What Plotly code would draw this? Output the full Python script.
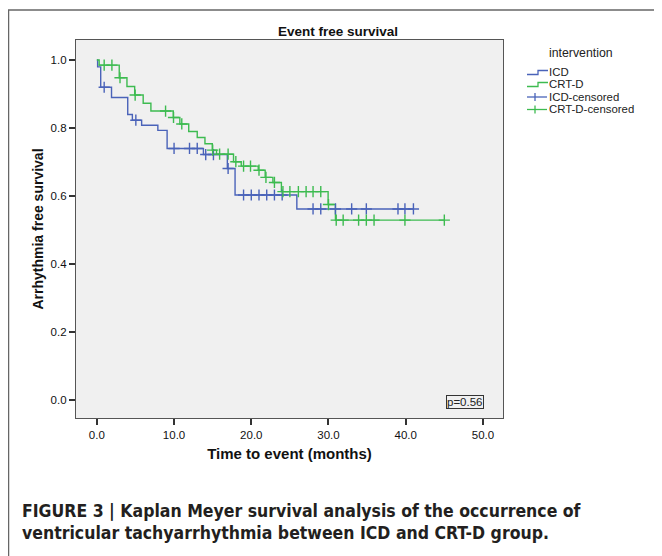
import plotly.graph_objects as go

# ---------------- data ----------------
icd_times = [0, 0.1, 0.5, 1.9, 4.0, 4.6, 5.8, 7.9, 9.1, 13.8, 16.9, 17.9, 25.9, 41.0]
icd_surv = [1.0, 0.98, 0.92, 0.89, 0.84, 0.823, 0.808, 0.793, 0.74, 0.722, 0.681, 0.603, 0.562, 0.562]
icd_censored = [0.95, 5.05, 10.0, 12.0, 13.0, 14.1, 15.1, 17.0, 19.0, 20.0, 21.0, 22.0,
                23.0, 24.0, 28.0, 29.0, 30.9, 33.0, 34.9, 39.0, 39.9, 41.0]

crt_times = [0, 0.3, 2.9, 3.9, 4.9, 6.0, 7.0, 9.9, 10.75, 11.9, 13.0, 14.0, 14.95, 15.5,
             17.7, 18.7, 20.9, 21.8, 22.8, 23.9, 29.95, 30.9, 45.0]
crt_surv = [1.0, 0.985, 0.948, 0.922, 0.897, 0.873, 0.85, 0.831, 0.812, 0.79, 0.772, 0.754,
            0.735, 0.723, 0.701, 0.688, 0.676, 0.655, 0.640, 0.613, 0.575, 0.529, 0.529]
crt_censored = [0.95, 1.95, 3.0, 4.96, 8.9, 9.93, 11.0, 15.0, 15.9, 17.0, 18.0, 19.0, 19.9,
                21.0, 21.9, 23.0, 24.1, 25.0, 26.1, 27.1, 28.0, 29.0, 30.0, 31.0, 31.9,
                33.9, 34.9, 35.9, 39.9, 45.0]

x_ticks = [0, 10, 20, 30, 40, 50]
x_tick_labels = ["0.0", "10.0", "20.0", "30.0", "40.0", "50.0"]
y_ticks = [0.0, 0.2, 0.4, 0.6, 0.8, 1.0]
y_tick_labels = ["0.0", "0.2", "0.4", "0.6", "0.8", "1.0"]

group_names = ["ICD", "CRT-D", "ICD-censored", "CRT-D-censored"]
p_value_text = "p=0.56"
chart_title = "Event free survival"
x_title = "Time to event (months)"
y_title = "Arrhythmia free survival"
legend_title = "intervention"
caption_lines = [
    "FIGURE 3 | Kaplan Meyer survival analysis of the occurrence of",
    "ventricular tachyarrhythmia between ICD and CRT-D group.",
]

BLUE = "#4a63b9"
GREEN = "#3dbb50"


def surv_at(times, surv, t):
    s = surv[0]
    for ti, si in zip(times, surv):
        if ti <= t:
            s = si
    return s


# ---------------- layout geometry (page pixels) ----------------
PAGE_W, PAGE_H = 662, 556
OFF = 8  # default body margin of the html page
W, H = PAGE_W - OFF, PAGE_H - OFF
L, R, T, B = 76, 503, 40, 418  # plot area edges in page pixels


def px(xp):
    return (xp - L) / (R - L)


def py(yp):
    return (B - yp) / (B - T)


fig = go.Figure()

fig.add_trace(go.Scatter(x=icd_times, y=icd_surv, mode="lines", line_shape="hv",
                         line=dict(color=BLUE, width=1.4), name=group_names[0],
                         showlegend=False))
fig.add_trace(go.Scatter(x=crt_times, y=crt_surv, mode="lines", line_shape="hv",
                         line=dict(color=GREEN, width=1.4), name=group_names[1],
                         showlegend=False))
fig.add_trace(go.Scatter(x=icd_censored,
                         y=[surv_at(icd_times, icd_surv, t) for t in icd_censored],
                         mode="markers", name=group_names[2], showlegend=False,
                         marker=dict(symbol="cross-thin", size=8,
                                     line=dict(color=BLUE, width=1.4))))
fig.add_trace(go.Scatter(x=crt_censored,
                         y=[surv_at(crt_times, crt_surv, t) for t in crt_censored],
                         mode="markers", name=group_names[3], showlegend=False,
                         marker=dict(symbol="cross-thin", size=8,
                                     line=dict(color=GREEN, width=1.4))))

FONT = "Liberation Sans, Arial, sans-serif"

annotations = []
shapes = []

# chart title
annotations.append(dict(xref="paper", yref="paper", x=px(338), y=py(31), text="<b>%s</b>" % chart_title,
                        showarrow=False, xanchor="center", yanchor="middle",
                        font=dict(family=FONT, size=13.5, color="#111")))

# p-value box
annotations.append(dict(xref="paper", yref="paper", x=px(465), y=py(401.5), text=p_value_text,
                        showarrow=False, xanchor="center", yanchor="middle",
                        font=dict(family=FONT, size=11.5, color="#222"),
                        bordercolor="#333", borderwidth=1, borderpad=0))

# manual legend
annotations.append(dict(xref="paper", yref="paper", x=px(580.5), y=py(53), text=legend_title,
                        showarrow=False, xanchor="center", yanchor="middle",
                        font=dict(family=FONT, size=12.3, color="#222")))
leg_y = [72.5, 84.5, 97, 109.5]
leg_col = [BLUE, GREEN, BLUE, GREEN]
for i, name in enumerate(group_names):
    yy = leg_y[i]
    annotations.append(dict(xref="paper", yref="paper", x=px(547), y=py(yy), text=name,
                            showarrow=False, xanchor="left", yanchor="middle",
                            font=dict(family=FONT, size=11.4, color="#222")))
    if i < 2:
        path = "M {} {} L {} {} L {} {} L {} {}".format(
            px(527), py(yy + 2), px(538), py(yy + 2), px(538), py(yy - 2), px(548), py(yy - 2))
        shapes.append(dict(type="path", xref="paper", yref="paper", path=path,
                           line=dict(color=leg_col[i], width=1.3)))
    else:
        shapes.append(dict(type="line", xref="paper", yref="paper", x0=px(527), x1=px(547),
                           y0=py(yy), y1=py(yy), line=dict(color=leg_col[i], width=1.3)))
        shapes.append(dict(type="line", xref="paper", yref="paper", x0=px(535), x1=px(535),
                           y0=py(yy - 4), y1=py(yy + 4), line=dict(color=leg_col[i], width=1.3)))

# caption
for i, line in enumerate(caption_lines):
    annotations.append(dict(xref="paper", yref="paper", x=px(20), y=py(511 + 22 * i),
                            text="<b>%s</b>" % line, showarrow=False,
                            xanchor="left", yanchor="middle",
                            font=dict(family="DejaVu Sans Condensed, Liberation Sans, Arial",
                                      size=17.5, color="#231f20")))

# outer figure frame (top and left edges visible)
shapes.append(dict(type="line", xref="paper", yref="paper", x0=px(8), x1=px(662),
                   y0=py(10), y1=py(10), line=dict(color="#666", width=1.5)))
shapes.append(dict(type="line", xref="paper", yref="paper", x0=px(8.5), x1=px(8.5),
                   y0=py(10), y1=py(556), line=dict(color="#666", width=1.5)))

fig.update_layout(
    width=W, height=H,
    margin=dict(l=L - OFF, r=W - (R - OFF), t=T - OFF, b=H - (B - OFF), autoexpand=False),
    paper_bgcolor="white", plot_bgcolor="#f0f0f0",
    showlegend=False,
    font=dict(family=FONT, size=11.5, color="#111"),
    annotations=annotations, shapes=shapes,
    xaxis=dict(range=[-2.7, 52.6], tickvals=x_ticks, ticktext=x_tick_labels,
               ticks="outside", ticklen=6, tickwidth=1.5, tickcolor="#333",
               showline=True, linecolor="#555", linewidth=1.2, mirror=True,
               showgrid=False, zeroline=False, tickfont=dict(size=11.5, color="#111"),
               title=dict(text="<b>%s</b>" % x_title, font=dict(size=15, color="#111"), standoff=8)),
    yaxis=dict(range=[-0.053, 1.059], tickvals=y_ticks, ticktext=y_tick_labels,
               ticks="outside", ticklen=6, tickwidth=1.5, tickcolor="#333",
               showline=True, linecolor="#555", linewidth=1.2, mirror=True,
               showgrid=False, zeroline=False, tickfont=dict(size=11.5, color="#111"),
               title=dict(text="<b>%s</b>" % y_title, font=dict(size=14, color="#111"), standoff=3)),
)

fig.write_html("out.html")
